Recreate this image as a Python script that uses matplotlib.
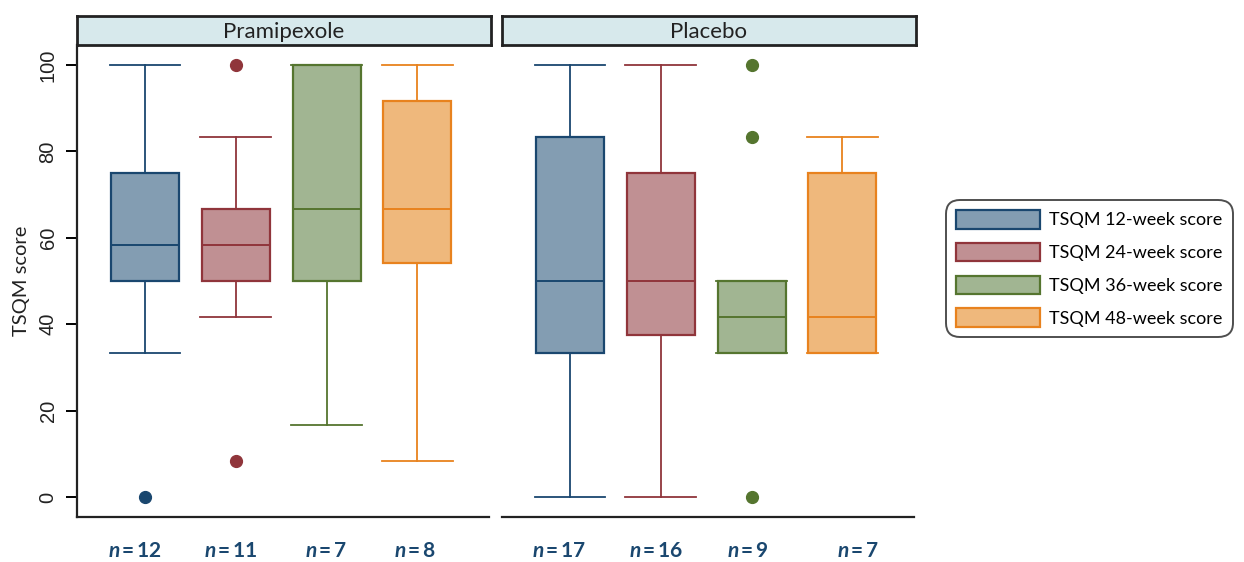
import matplotlib
matplotlib.use("Agg")
import matplotlib.pyplot as plt
from matplotlib.patches import Patch

plt.rcParams['font.family'] = ['Lato', 'DejaVu Sans']
plt.rcParams['mathtext.fontset'] = 'custom'
plt.rcParams['mathtext.bfit'] = 'Lato:bold:italic'
plt.rcParams['mathtext.bf'] = 'Lato:bold'

groups = ['Pramipexole', 'Placebo']
series = ['TSQM 12-week score', 'TSQM 24-week score',
          'TSQM 36-week score', 'TSQM 48-week score']

# per group, per series: [lower whisker, q1, median, q3, upper whisker]
prami_stats = [[33.3, 50.0, 58.3, 75.0, 100.0],
               [41.7, 50.0, 58.3, 66.7, 83.3],
               [16.7, 50.0, 66.7, 100.0, 100.0],
               [8.3, 54.2, 66.7, 91.7, 100.0]]
placebo_stats = [[0.0, 33.3, 50.0, 83.3, 100.0],
                 [0.0, 37.5, 50.0, 75.0, 100.0],
                 [33.3, 33.3, 41.7, 50.0, 50.0],
                 [33.3, 33.3, 41.7, 75.0, 83.3]]
prami_out = [[0.0], [100.0, 8.3], [], []]
placebo_out = [[], [], [100.0, 83.3, 0.0], []]
prami_n = [12, 11, 7, 8]
placebo_n = [17, 16, 9, 7]
# where the n labels sit on the x axis
prami_nx = [0.89, 1.94, 2.99, 3.98]
placebo_nx = [0.88, 1.95, 2.96, 4.17]
yticks = [0, 20, 40, 60, 80, 100]

edge_cols = ['#1a476f', '#90353b', '#55752f', '#e8821e']
fill_cols = ['#839db2', '#c09093', '#a1b592', '#efb87c']
navy = '#1a476f'

W, H = 1244, 562
fig = plt.figure(figsize=(W / 100, H / 100), dpi=100)

def px(x0, y0, x1, y1):
    return [x0 / W, 1 - y1 / H, (x1 - x0) / W, (y1 - y0) / H]

panels = [(77, 489, prami_stats, prami_out, prami_n, prami_nx, groups[0]),
          (502, 914, placebo_stats, placebo_out, placebo_n, placebo_nx, groups[1])]

for i, (x0, x1, stats, outs, ns, nxs, title) in enumerate(panels):
    ax = fig.add_axes(px(x0, 45, x1, 517))
    for j in range(4):
        lo, q1, med, q3, hi = stats[j]
        st = [dict(whislo=lo, q1=q1, med=med, q3=q3, whishi=hi, fliers=outs[j])]
        c = edge_cols[j]
        ax.bxp(st, positions=[j + 1], widths=0.75, patch_artist=True,
               showcaps=True,
               boxprops=dict(facecolor=fill_cols[j], edgecolor=c, linewidth=1.6),
               medianprops=dict(color=c, linewidth=1.4),
               whiskerprops=dict(color=c, linewidth=1.3),
               capprops=dict(color=c, linewidth=1.3),
               flierprops=dict(marker='o', markerfacecolor=c, markeredgecolor=c,
                               markersize=8.5, linestyle='none'),
               capwidths=0.78)
        ax.text(nxs[j], -0.073, r'$\mathbfit{n}$' + '\u2009=\u2009' + str(ns[j]),
                transform=ax.get_xaxis_transform(), ha='center', va='center',
                fontsize=15, fontweight='bold', color=navy)
    ax.set_xlim(0.25, 4.79)
    ax.set_ylim(-4.6, 104.6)
    ax.set_xticks([])
    for s in ['top', 'right']:
        ax.spines[s].set_visible(False)
    ax.spines['bottom'].set_linewidth(1.6)
    ax.spines['bottom'].set_color('#222222')
    if i == 0:
        ax.spines['left'].set_linewidth(1.6)
        ax.spines['left'].set_color('#222222')
        ax.set_yticks(yticks)
        ax.tick_params(axis='y', length=8, width=1.4, pad=6)
        ax.set_yticklabels([str(v) for v in yticks], rotation=90, va='center',
                           family='Liberation Sans', fontsize=14.5,
                           color='#222222')
        ax.set_ylabel('TSQM score', fontsize=14.5, labelpad=6, color='#222222')
    else:
        ax.spines['left'].set_visible(False)
        ax.set_yticks([])

    sax = fig.add_axes(px(x0, 16, x1 + 2, 45))
    sax.set_facecolor('#d7e9ec')
    sax.set_xticks([])
    sax.set_yticks([])
    for s in sax.spines.values():
        s.set_linewidth(2)
        s.set_color('#222222')
    sax.text(0.5, 0.45, title, ha='center', va='center', fontsize=16,
             color='#222222', transform=sax.transAxes)

handles = [Patch(facecolor=fill_cols[k], edgecolor=edge_cols[k], linewidth=1.6)
           for k in range(4)]
leg = fig.legend(handles, series, loc='upper left',
                 bbox_to_anchor=(946 / W, 1 - 200 / H), fontsize=13,
                 handlelength=4.67, handleheight=1.22, labelspacing=0.78,
                 handletextpad=0.5, borderpad=0.55, borderaxespad=0,
                 frameon=True, fancybox=True)
fr = leg.get_frame()
fr.set_edgecolor('#222222')
fr.set_linewidth(1.4)
fr.set_boxstyle('round,pad=0,rounding_size=0.8')

fig.savefig('out.png', dpi=100)
